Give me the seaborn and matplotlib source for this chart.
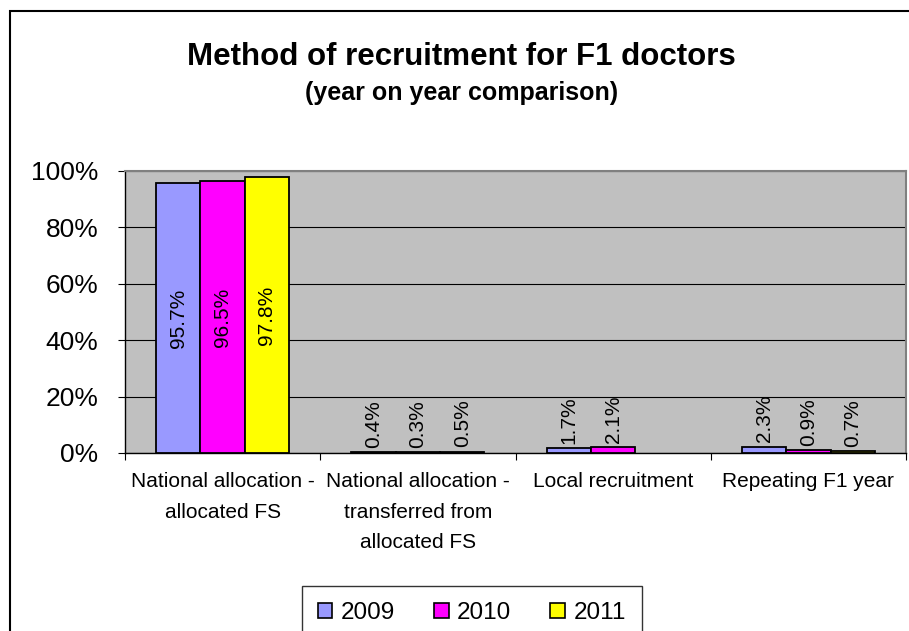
import matplotlib
matplotlib.use('Agg')
import matplotlib.pyplot as plt
import matplotlib.patches as mpatches
from matplotlib.ticker import FixedLocator
import numpy as np
import pandas as pd
import seaborn as sns

# --- data ---
categories = [
    'National allocation -\nallocated FS',
    'National allocation -\ntransferred from\nallocated FS',
    'Local recruitment',
    'Repeating F1 year',
]
years = ['2009', '2010', '2011']
values_2009 = [95.7, 0.4, 1.7, 2.3]
values_2010 = [96.5, 0.3, 2.1, 0.9]
values_2011 = [97.8, 0.5, np.nan, 0.7]
year_colors = ['#9999FF', '#FF00FF', '#FFFF00']
y_ticks = [0, 20, 40, 60, 80, 100]

rows = []
for yr, vals in zip(years, [values_2009, values_2010, values_2011]):
    for cat, v in zip(categories, vals):
        rows.append({'Category': cat, 'Year': yr, 'Value': v})
df = pd.DataFrame(rows)

# --- setup ---
sns.set_style('white')
plt.rcParams['font.family'] = ['Liberation Sans', 'DejaVu Sans']
plt.rcParams['text.color'] = 'black'
plt.rcParams['xtick.color'] = 'black'
plt.rcParams['ytick.color'] = 'black'
plt.rcParams['axes.labelcolor'] = 'black'

fig = plt.figure(figsize=(9.09, 6.31), dpi=100)
fig.patch.set_facecolor('white')
ax = fig.add_axes([125 / 909, 1 - 453 / 631, (906 - 125) / 909, (453 - 171) / 631])
ax.set_facecolor('#C0C0C0')

sns.barplot(data=df, x='Category', y='Value', hue='Year', order=categories,
            hue_order=years, palette=year_colors, edgecolor='black',
            linewidth=1.3, width=0.68, saturation=1, ax=ax, legend=False,
            zorder=3)

# data labels
for cont in ax.containers:
    for bar in cont:
        h = bar.get_height()
        if np.isnan(h):
            continue
        x = bar.get_x() + bar.get_width() / 2
        if h > 50:
            ax.text(x, h / 2, f'{h:.1f}%', rotation=90, ha='center', va='center',
                    fontsize=15, color='black', zorder=5)
        else:
            ax.annotate(f'{h:.1f}%', (x, h), xytext=(0, 3), textcoords='offset points',
                        rotation=90, ha='center', va='bottom', fontsize=15,
                        color='black', zorder=5)

# axes
ax.set_ylim(0, 100)
ax.set_xlim(-0.5, 3.5)
ax.set_yticks(y_ticks)
ax.set_yticklabels([f'{t}%' for t in y_ticks], fontsize=19)
ax.yaxis.grid(True, color='black', linewidth=0.8, zorder=0)
ax.set_axisbelow(True)
ax.tick_params(axis='y', which='major', direction='out', length=5, width=0.8,
               color='black', pad=14, left=True)
ax.set_xticks(range(len(categories)))
ax.set_xticklabels(categories, fontsize=15, linespacing=1.75)
ax.tick_params(axis='x', which='major', length=0, pad=14)
ax.xaxis.set_minor_locator(FixedLocator([-0.5, 0.5, 1.5, 2.5, 3.5]))
ax.tick_params(axis='x', which='minor', direction='out', length=5, width=0.8,
               color='black', bottom=True)
ax.set_xlabel('')
ax.set_ylabel('')
for side in ['left', 'bottom']:
    ax.spines[side].set_color('black')
    ax.spines[side].set_linewidth(1.0)
for side in ['top', 'right']:
    ax.spines[side].set_color('#808080')
    ax.spines[side].set_linewidth(1.5)

# titles
fig.text(0.508, 0.910, 'Method of recruitment for F1 doctors', ha='center',
         va='center', fontsize=22.5, fontweight='bold')
fig.text(0.508, 0.852, '(year on year comparison)', ha='center', va='center',
         fontsize=18, fontweight='bold')

# outer chart border (cropped at right and bottom)
fig.add_artist(mpatches.Rectangle((10 / 909, -0.1), 1.2, 1 - 11 / 631 + 0.1,
                                  transform=fig.transFigure, fill=False,
                                  edgecolor='black', linewidth=1.5))

# legend
handles = [mpatches.Patch(facecolor=c, edgecolor='black', linewidth=1.2, label=y)
           for c, y in zip(year_colors, years)]
leg = fig.legend(handles=handles, loc='upper center', bbox_to_anchor=(0.519, 0.071),
                 ncol=3, fontsize=17.5, frameon=True, fancybox=False,
                 edgecolor='black', handlelength=0.6, handleheight=0.6,
                 handletextpad=0.35, columnspacing=1.6, borderpad=0.65,
                 borderaxespad=0)
leg.get_frame().set_linewidth(1.0)

fig.savefig('out.png', dpi=100, facecolor='white')
